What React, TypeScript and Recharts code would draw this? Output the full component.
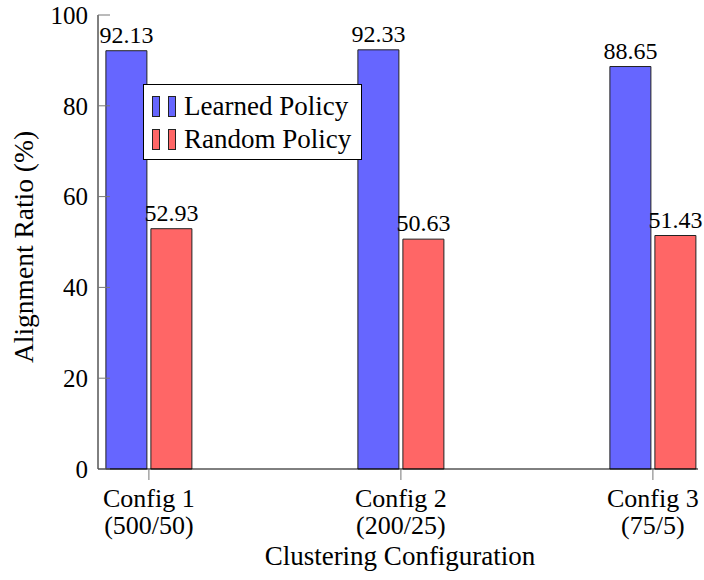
import { BarChart, Bar, XAxis, YAxis, LabelList, Legend } from 'recharts';

const categories = ['Config 1', 'Config 2', 'Config 3'];
const subLabels = ['(500/50)', '(200/25)', '(75/5)'];
const learnedPolicy = [92.13, 92.33, 88.65];
const randomPolicy = [52.93, 50.63, 51.43];
const yTicks = [0, 20, 40, 60, 80, 100];
const xPositions = [1, 2, 3];

const data = categories.map((name, i) => ({
  pos: xPositions[i],
  name,
  learned: learnedPolicy[i],
  random: randomPolicy[i],
}));

const FONT = 'Liberation Serif, DejaVu Serif, serif';
const BLUE = '#6666ff';
const RED = '#ff6666';
const TICK_COLOR = '#777';

const XTick = (props: any) => {
  const { x, y, payload } = props;
  const i = xPositions.indexOf(payload.value);
  return (
    <text x={x} y={y} textAnchor="middle" style={{ fontFamily: FONT, fontSize: 26 }} fill="#000">
      <tspan x={x} dy={25}>{categories[i]}</tspan>
      <tspan x={x} dy={27}>{subLabels[i]}</tspan>
    </text>
  );
};

const XTitle = (props: any) => {
  const vb = props.viewBox;
  return (
    <text x={vb.x + vb.width / 2 + 2} y={vb.y + 96} textAnchor="middle" style={{ fontFamily: FONT, fontSize: 27 }} fill="#000">
      Clustering Configuration
    </text>
  );
};

const YTitle = (props: any) => {
  const vb = props.viewBox;
  const cx = vb.x + 23;
  const cy = vb.y + vb.height / 2 + 5;
  return (
    <text
      x={cx}
      y={cy}
      transform={`rotate(-90 ${cx} ${cy})`}
      textAnchor="middle"
      dominantBaseline="central"
      style={{ fontFamily: FONT, fontSize: 27.5 }}
      fill="#000"
    >
      Alignment Ratio (%)
    </text>
  );
};

const LegendBox = () => {
  const rows = [
    { label: 'Learned Policy', color: BLUE },
    { label: 'Random Policy', color: RED },
  ];
  return (
    <div
      style={{
        border: '1px solid #000',
        background: '#fff',
        width: 219,
        height: 76,
        boxSizing: 'border-box',
        padding: '5px 0 0 8px',
        fontFamily: FONT,
        fontSize: 27,
        lineHeight: '33px',
      }}
    >
      {rows.map((r) => (
        <div key={r.label} style={{ display: 'flex', alignItems: 'center', height: 33 }}>
          <span style={{ display: 'inline-block', width: 8, height: 21, background: r.color, border: '1px solid #222', boxSizing: 'border-box' }} />
          <span style={{ display: 'inline-block', width: 8, height: 21, background: r.color, border: '1px solid #222', boxSizing: 'border-box', marginLeft: 8 }} />
          <span style={{ marginLeft: 8, whiteSpace: 'nowrap' }}>{r.label}</span>
        </div>
      ))}
    </div>
  );
};

export default function App() {
  return (
    <div style={{ position: 'absolute', left: 0, top: 0, fontFamily: FONT }}>
      <BarChart
        width={704}
        height={580}
        data={data}
        margin={{ top: 15, right: 6, bottom: 0, left: 0 }}
        barSize={41}
        barGap={4}
      >
        <XAxis
          dataKey="pos"
          type="number"
          domain={[0.798, 3.179]}
          ticks={xPositions}
          allowDataOverflow
          height={111}
          tickSize={11}
          tickMargin={2}
          tick={<XTick />}
          axisLine={{ stroke: '#000' }}
          tickLine={{ stroke: TICK_COLOR }}
          label={{ content: <XTitle /> }}
        />
        <XAxis
          xAxisId="top"
          orientation="top"
          dataKey="pos"
          type="number"
          domain={[0.798, 3.179]}
          ticks={xPositions}
          allowDataOverflow
          height={0}
          tickSize={10}
          tick={false}
          axisLine={{ stroke: '#000' }}
          tickLine={{ stroke: TICK_COLOR }}
        />
        <YAxis
          domain={[0, 100]}
          ticks={yTicks}
          width={98}
          tickSize={-12}
          tickMargin={22}
          tick={{ style: { fontFamily: FONT, fontSize: 25 }, fill: '#000' }}
          axisLine={{ stroke: '#000' }}
          tickLine={{ stroke: TICK_COLOR }}
          label={{ content: <YTitle /> }}
        />
        <YAxis
          yAxisId="right"
          orientation="right"
          domain={[0, 100]}
          ticks={yTicks}
          width={0}
          tickSize={-12}
          tick={false}
          axisLine={{ stroke: '#000' }}
          tickLine={{ stroke: TICK_COLOR }}
        />
        <Legend
          layout="vertical"
          align="center"
          verticalAlign="middle"
          content={<LegendBox />}
          wrapperStyle={{ left: 143, top: 84, width: 219, height: 76 }}
        />
        <Bar dataKey="learned" name="Learned Policy" fill={BLUE} stroke="#222" strokeWidth={1} isAnimationActive={false}>
          <LabelList
            dataKey="learned"
            position="top"
            offset={8}
            formatter={(v: any) => Number(v).toFixed(2)}
            style={{ fontFamily: FONT, fontSize: 24, fill: '#000' }}
          />
        </Bar>
        <Bar dataKey="random" name="Random Policy" fill={RED} stroke="#222" strokeWidth={1} isAnimationActive={false}>
          <LabelList
            dataKey="random"
            position="top"
            offset={8}
            formatter={(v: any) => Number(v).toFixed(2)}
            style={{ fontFamily: FONT, fontSize: 24, fill: '#000' }}
          />
        </Bar>
      </BarChart>
    </div>
  );
}
